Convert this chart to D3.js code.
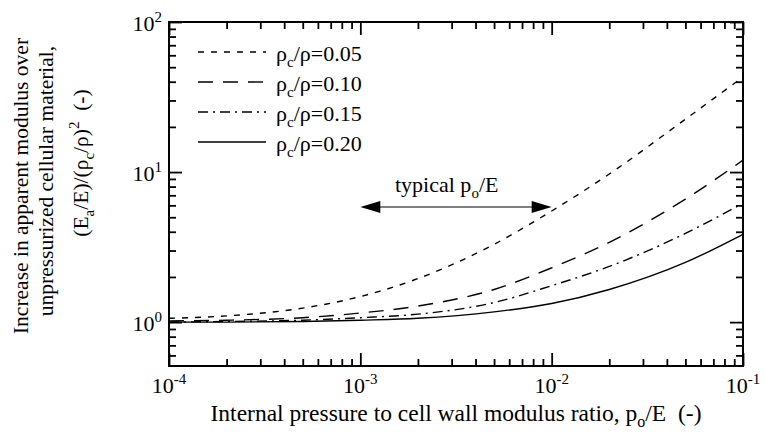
<!DOCTYPE html>
<html>
<head>
<meta charset="utf-8">
<script src="https://cdn.jsdelivr.net/npm/d3@7"></script>
<style>
  html, body { margin: 0; padding: 0; background: #fff; }
  svg { display: block; }
  text { font-family: "Liberation Serif", "Times New Roman", serif; fill: #000; white-space: pre; }
</style>
</head>
<body>
<svg id="chart" width="765" height="439"></svg>
<script>
// Pressure ratio p_o/E sampled along the curves
const pRatio = [1e-4, 2e-4, 5e-4, 1e-3, 2e-3, 5e-3, 1e-2, 2e-2, 5e-2, 1e-1];

// Normalised apparent modulus (E_a/E)/(rho_c/rho)^2 for each relative density
const rel005 = [1.06, 1.10, 1.24, 1.48, 1.95, 3.3, 5.5, 9.7, 22.5, 43];
const rel010 = [1.02, 1.03, 1.07, 1.15, 1.28, 1.65, 2.3, 3.4, 6.6, 12];
const rel015 = [1.00, 1.01, 1.03, 1.07, 1.13, 1.35, 1.75, 2.35, 3.9, 6.2];
const rel020 = [1.00, 1.00, 1.01, 1.03, 1.06, 1.17, 1.33, 1.65, 2.5, 3.85];

const seriesLabels = ["0.05", "0.10", "0.15", "0.20"];
const seriesValues = [rel005, rel010, rel015, rel020];
const seriesDash = ["6,7", "15,10", "10,5,2,5", null];

// Decade tick labels (exponents of ten)
const xExponents = [-4, -3, -2, -1];
const yExponents = [0, 1, 2];

// Arrow span marking the typical operating range
const typicalRange = [1e-3, 1e-2];
const typicalLevel = 5.85;

(function draw() {
  const svg = d3.select("#chart");
  const plotL = 169, plotR = 743, plotT = 22, plotB = 366;

  const x = d3.scaleLog().domain([1e-4, 1e-1]).range([plotL, plotR]);
  const y = d3.scaleLog().domain([0.51, 100]).range([plotB, plotT]);

  const FONT = 22, SMALL = 15;

  // minor tick values
  const xMinor = [];
  for (let e = -4; e < -1; e++) for (let m = 2; m <= 9; m++) xMinor.push(m * Math.pow(10, e));
  const yMinor = [0.6, 0.7, 0.8, 0.9];
  for (let e = 0; e < 2; e++) for (let m = 2; m <= 9; m++) yMinor.push(m * Math.pow(10, e));
  const xMajor = xExponents.map(e => Math.pow(10, e));
  const yMajor = yExponents.map(e => Math.pow(10, e));

  function drawAxis(axisFn, scale, values, size, transform) {
    const g = svg.append("g").attr("transform", transform)
      .call(axisFn(scale).tickValues(values).tickSize(-size).tickFormat(""));
    g.select(".domain").remove();
    g.selectAll(".tick line").attr("stroke", "#000").attr("stroke-width", 1.8);
  }

  // ticks point inward on all four sides
  drawAxis(d3.axisBottom, x, xMajor, 13, `translate(0,${plotB})`);
  drawAxis(d3.axisBottom, x, xMinor, 7, `translate(0,${plotB})`);
  drawAxis(d3.axisTop, x, xMajor, 13, `translate(0,${plotT})`);
  drawAxis(d3.axisTop, x, xMinor, 7, `translate(0,${plotT})`);
  drawAxis(d3.axisLeft, y, yMajor, 13, `translate(${plotL},0)`);
  drawAxis(d3.axisLeft, y, yMinor, 7, `translate(${plotL},0)`);
  drawAxis(d3.axisRight, y, yMajor, 13, `translate(${plotR},0)`);
  drawAxis(d3.axisRight, y, yMinor, 7, `translate(${plotR},0)`);

  // frame
  svg.append("rect")
    .attr("x", plotL).attr("y", plotT)
    .attr("width", plotR - plotL).attr("height", plotB - plotT)
    .attr("fill", "none").attr("stroke", "#000").attr("stroke-width", 2);

  // power-of-ten labels
  function powerLabel(sel, exp) {
    sel.append("tspan").text("10");
    sel.append("tspan").attr("dy", -9).attr("font-size", SMALL).text(String(exp));
  }
  xExponents.forEach(e => {
    const t = svg.append("text")
      .attr("x", x(Math.pow(10, e))).attr("y", plotB + 27)
      .attr("text-anchor", "middle").attr("font-size", FONT);
    powerLabel(t, e);
  });
  yExponents.forEach(e => {
    const t = svg.append("text")
      .attr("x", plotL - 7).attr("y", y(Math.pow(10, e)) + 9)
      .attr("text-anchor", "end").attr("font-size", FONT);
    powerLabel(t, e);
  });

  // x-axis title
  const xt = svg.append("text")
    .attr("x", (plotL + plotR) / 2).attr("y", 421)
    .attr("text-anchor", "middle").attr("font-size", 23.5);
  xt.append("tspan").text("Internal pressure to cell wall modulus ratio, p");
  xt.append("tspan").attr("dy", 6).attr("font-size", 16).text("o");
  xt.append("tspan").attr("dy", -6).text("/E  (-)");

  // y-axis title, three rotated lines
  function yTitleLine(bx, cy) {
    return svg.append("text")
      .attr("transform", `translate(${bx},${cy}) rotate(-90)`)
      .attr("text-anchor", "middle").attr("font-size", 21.5);
  }
  yTitleLine(28, 186).text("Increase in apparent modulus over");
  yTitleLine(53, 181).text("unpressurized cellular material,");
  const y3 = yTitleLine(88, 163);
  y3.append("tspan").text("(E");
  y3.append("tspan").attr("dy", 6).attr("font-size", SMALL).text("a");
  y3.append("tspan").attr("dy", -6).text("/E)/(ρ");
  y3.append("tspan").attr("dy", 6).attr("font-size", SMALL).text("c");
  y3.append("tspan").attr("dy", -6).text("/ρ)");
  y3.append("tspan").attr("dy", -9).attr("font-size", SMALL).text("2");
  y3.append("tspan").attr("dy", 9).text("  (-)");

  // curves
  const line = d3.line()
    .x((d, i) => x(pRatio[i]))
    .y(d => y(d))
    .curve(d3.curveMonotoneX);

  seriesValues.forEach((vals, i) => {
    svg.append("path")
      .datum(vals)
      .attr("d", line)
      .attr("fill", "none")
      .attr("stroke", "#000")
      .attr("stroke-width", 1.4)
      .attr("stroke-dasharray", seriesDash[i]);
  });

  // legend
  const legX0 = 198, legX1 = 266, legY0 = 52, legStep = 30;
  seriesLabels.forEach((lab, i) => {
    const ly = legY0 + i * legStep;
    svg.append("line")
      .attr("x1", legX0).attr("x2", legX1).attr("y1", ly).attr("y2", ly)
      .attr("stroke", "#000").attr("stroke-width", 1.4)
      .attr("stroke-dasharray", seriesDash[i]);
    const t = svg.append("text")
      .attr("x", 276).attr("y", ly + 9).attr("font-size", FONT);
    t.append("tspan").text("ρ");
    t.append("tspan").attr("dy", 6).attr("font-size", SMALL).text("c");
    t.append("tspan").attr("dy", -6).text("/ρ=" + lab);
  });

  // typical range arrow
  const ax0 = x(typicalRange[0]), ax1 = x(typicalRange[1]), ay = y(typicalLevel);
  const headL = 20, headW = 6;
  svg.append("line")
    .attr("x1", ax0 + headL - 2).attr("x2", ax1 - headL + 2)
    .attr("y1", ay).attr("y2", ay)
    .attr("stroke", "#000").attr("stroke-width", 1.1);
  svg.append("path")
    .attr("d", `M${ax0},${ay} L${ax0 + headL},${ay - headW} L${ax0 + headL},${ay + headW} Z`)
    .attr("fill", "#000");
  svg.append("path")
    .attr("d", `M${ax1},${ay} L${ax1 - headL},${ay - headW} L${ax1 - headL},${ay + headW} Z`)
    .attr("fill", "#000");
  const tt = svg.append("text")
    .attr("x", 395).attr("y", 192).attr("font-size", FONT);
  tt.append("tspan").text("typical p");
  tt.append("tspan").attr("dy", 6).attr("font-size", SMALL).text("o");
  tt.append("tspan").attr("dy", -6).text("/E");
})();
</script>
</body>
</html>
